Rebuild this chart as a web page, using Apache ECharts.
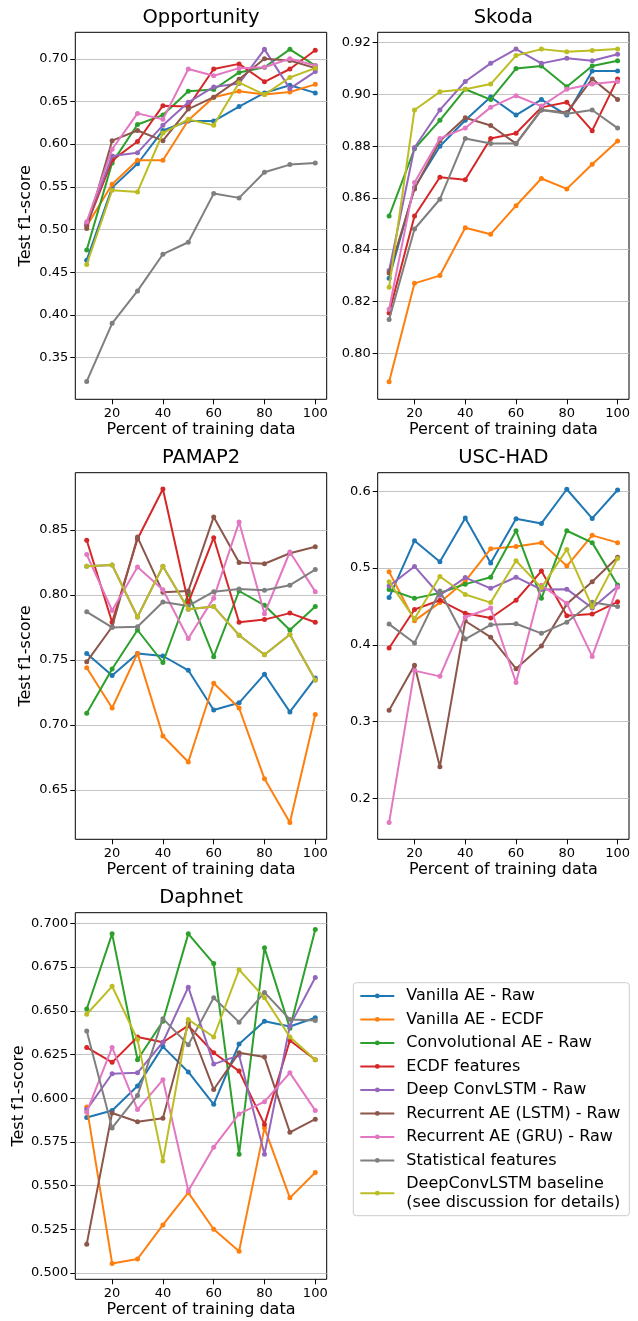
<!DOCTYPE html>
<html><head><meta charset="utf-8">
<script src="https://cdn.jsdelivr.net/npm/echarts@6/dist/echarts.min.js"></script>
<style>html,body{margin:0;padding:0;background:#fff}#c{width:638px;height:1321px}</style>
</head><body><div id="c"></div>
<script>
// ---------- data ----------
const xPercent = [10, 20, 30, 40, 50, 60, 70, 80, 90, 100];
const xTicks = [20, 40, 60, 80, 100];
const seriesNames = [
  'Vanilla AE - Raw', 'Vanilla AE - ECDF', 'Convolutional AE - Raw', 'ECDF features',
  'Deep ConvLSTM - Raw', 'Recurrent AE (LSTM) - Raw', 'Recurrent AE (GRU) - Raw',
  'Statistical features', 'DeepConvLSTM baseline\n(see discussion for details)'
];
const colors = ['#1f77b4','#ff7f0e','#2ca02c','#d62728','#9467bd','#8c564b','#e377c2','#7f7f7f','#bcbd22'];
const datasetTitles = ['Opportunity', 'Skoda', 'PAMAP2', 'USC-HAD', 'Daphnet'];

// Opportunity
const oppVanillaRaw  = [0.464, 0.549, 0.577, 0.616, 0.627, 0.627, 0.644, 0.660, 0.669, 0.660];
const oppVanillaEcdf = [0.504, 0.553, 0.581, 0.581, 0.628, 0.655, 0.662, 0.658, 0.661, 0.670];
const oppConvAE      = [0.476, 0.578, 0.623, 0.634, 0.662, 0.664, 0.684, 0.690, 0.711, 0.692];
const oppEcdfFeat    = [0.505, 0.581, 0.603, 0.645, 0.644, 0.688, 0.694, 0.673, 0.688, 0.710];
const oppDeepConv    = [0.507, 0.586, 0.590, 0.622, 0.649, 0.667, 0.671, 0.711, 0.665, 0.685];
const oppLstmAE      = [0.501, 0.604, 0.616, 0.604, 0.641, 0.655, 0.676, 0.700, 0.698, 0.689];
const oppGruAE       = [0.509, 0.594, 0.636, 0.629, 0.688, 0.680, 0.689, 0.690, 0.700, 0.692];
const oppStatFeat    = [0.322, 0.390, 0.428, 0.471, 0.485, 0.542, 0.537, 0.567, 0.576, 0.578];
const oppBaseline    = [0.459, 0.546, 0.544, 0.613, 0.629, 0.622, 0.672, 0.658, 0.678, 0.689];

// Skoda
const skoVanillaRaw  = [0.829, 0.864, 0.880, 0.890, 0.899, 0.892, 0.898, 0.892, 0.909, 0.909];
const skoVanillaEcdf = [0.789, 0.827, 0.830, 0.8485, 0.846, 0.857, 0.8675, 0.8635, 0.873, 0.882];
const skoConvAE      = [0.853, 0.879, 0.890, 0.902, 0.898, 0.910, 0.911, 0.903, 0.911, 0.913];
const skoEcdfFeat    = [0.8155, 0.853, 0.868, 0.867, 0.883, 0.885, 0.895, 0.897, 0.886, 0.906];
const skoDeepConv    = [0.832, 0.8795, 0.894, 0.905, 0.912, 0.9175, 0.912, 0.914, 0.913, 0.9155];
const skoLstmAE      = [0.831, 0.8635, 0.882, 0.891, 0.888, 0.881, 0.894, 0.893, 0.906, 0.898];
const skoGruAE       = [0.817, 0.866, 0.883, 0.887, 0.895, 0.8995, 0.8955, 0.902, 0.904, 0.905];
const skoStatFeat    = [0.813, 0.848, 0.8595, 0.883, 0.881, 0.881, 0.894, 0.8925, 0.894, 0.887];
const skoBaseline    = [0.8255, 0.894, 0.901, 0.902, 0.904, 0.915, 0.9175, 0.9165, 0.917, 0.9175];

// PAMAP2
const pamVanillaRaw  = [0.755, 0.738, 0.755, 0.753, 0.742, 0.7115, 0.717, 0.739, 0.710, 0.736];
const pamVanillaEcdf = [0.744, 0.713, 0.755, 0.6915, 0.6715, 0.732, 0.713, 0.6585, 0.625, 0.708];
const pamConvAE      = [0.709, 0.743, 0.773, 0.748, 0.801, 0.7525, 0.803, 0.792, 0.773, 0.791];
const pamEcdfFeat    = [0.842, 0.779, 0.843, 0.8815, 0.794, 0.844, 0.779, 0.781, 0.786, 0.779];
const pamDeepConv    = [0.822, 0.823, 0.783, 0.822, 0.789, 0.791, 0.769, 0.754, 0.7695, 0.7345];
const pamLstmAE      = [0.7485, 0.7755, 0.8445, 0.802, 0.803, 0.860, 0.825, 0.824, 0.832, 0.837];
const pamGruAE       = [0.831, 0.788, 0.8215, 0.804, 0.7665, 0.7975, 0.856, 0.7855, 0.833, 0.8025];
const pamStatFeat    = [0.787, 0.775, 0.7755, 0.7945, 0.7915, 0.8025, 0.8045, 0.8035, 0.8075, 0.8195];
const pamBaseline    = [0.822, 0.823, 0.783, 0.822, 0.789, 0.791, 0.769, 0.754, 0.7695, 0.7345];

// USC-HAD
const uscVanillaRaw  = [0.4615, 0.5355, 0.508, 0.565, 0.5065, 0.564, 0.558, 0.6025, 0.5645, 0.6015];
const uscVanillaEcdf = [0.495, 0.4315, 0.455, 0.483, 0.525, 0.528, 0.533, 0.5025, 0.5425, 0.533];
const uscConvAE      = [0.472, 0.4605, 0.4675, 0.479, 0.488, 0.5485, 0.4605, 0.5485, 0.533, 0.478];
const uscEcdfFeat    = [0.396, 0.446, 0.458, 0.441, 0.435, 0.458, 0.496, 0.438, 0.440, 0.456];
const uscDeepConv    = [0.4765, 0.502, 0.4645, 0.4875, 0.4735, 0.488, 0.472, 0.4725, 0.448, 0.476];
const uscLstmAE      = [0.315, 0.3735, 0.2415, 0.431, 0.410, 0.369, 0.3985, 0.453, 0.482, 0.514];
const uscGruAE       = [0.169, 0.3665, 0.359, 0.436, 0.448, 0.351, 0.4775, 0.454, 0.385, 0.475];
const uscStatFeat    = [0.427, 0.4025, 0.470, 0.4075, 0.426, 0.4275, 0.415, 0.4295, 0.4555, 0.450];
const uscBaseline    = [0.482, 0.434, 0.489, 0.4655, 0.455, 0.5095, 0.4745, 0.524, 0.4495, 0.5125];

// Daphnet
const dapVanillaRaw  = [0.589, 0.593, 0.607, 0.6295, 0.615, 0.5965, 0.631, 0.644, 0.641, 0.646];
const dapVanillaEcdf = [0.595, 0.5055, 0.508, 0.5275, 0.546, 0.525, 0.5125, 0.583, 0.543, 0.5575];
const dapConvAE      = [0.651, 0.694, 0.622, 0.644, 0.694, 0.677, 0.568, 0.686, 0.640, 0.6965];
const dapEcdfFeat    = [0.629, 0.6205, 0.635, 0.632, 0.6415, 0.626, 0.6155, 0.585, 0.633, 0.622];
const dapDeepConv    = [0.5935, 0.614, 0.6145, 0.632, 0.6635, 0.6195, 0.6245, 0.568, 0.6415, 0.669];
const dapLstmAE      = [0.5165, 0.5915, 0.5865, 0.5885, 0.643, 0.605, 0.626, 0.6235, 0.5805, 0.588];
const dapGruAE       = [0.592, 0.629, 0.5935, 0.6105, 0.547, 0.572, 0.591, 0.598, 0.6145, 0.593];
const dapStatFeat    = [0.6385, 0.583, 0.6015, 0.6455, 0.6305, 0.6575, 0.6435, 0.6605, 0.645, 0.6445];
const dapBaseline    = [0.648, 0.664, 0.6335, 0.564, 0.645, 0.635, 0.6735, 0.6575, 0.635, 0.622];

// y tick labels per panel
const oppYTicks = [0.35, 0.40, 0.45, 0.50, 0.55, 0.60, 0.65, 0.70];
const skoYTicks = [0.80, 0.82, 0.84, 0.86, 0.88, 0.90, 0.92];
const pamYTicks = [0.65, 0.70, 0.75, 0.80, 0.85];
const uscYTicks = [0.2, 0.3, 0.4, 0.5, 0.6];
const dapYTicks = [0.500, 0.525, 0.550, 0.575, 0.600, 0.625, 0.650, 0.675, 0.700];

// ---------- build ----------
const panelSeries = [
  [oppVanillaRaw, oppVanillaEcdf, oppConvAE, oppEcdfFeat, oppDeepConv, oppLstmAE, oppGruAE, oppStatFeat, oppBaseline],
  [skoVanillaRaw, skoVanillaEcdf, skoConvAE, skoEcdfFeat, skoDeepConv, skoLstmAE, skoGruAE, skoStatFeat, skoBaseline],
  [pamVanillaRaw, pamVanillaEcdf, pamConvAE, pamEcdfFeat, pamDeepConv, pamLstmAE, pamGruAE, pamStatFeat, pamBaseline],
  [uscVanillaRaw, uscVanillaEcdf, uscConvAE, uscEcdfFeat, uscDeepConv, uscLstmAE, uscGruAE, uscStatFeat, uscBaseline],
  [dapVanillaRaw, dapVanillaEcdf, dapConvAE, dapEcdfFeat, dapDeepConv, dapLstmAE, dapGruAE, dapStatFeat, dapBaseline]
];
const panelYTicks = [oppYTicks, skoYTicks, pamYTicks, uscYTicks, dapYTicks];
const panelDecimals = [2, 2, 2, 1, 3];
const panelYRange = [[0.301, 0.731], [0.7822, 0.924], [0.612, 0.894], [0.147, 0.624], [0.4964, 0.7061]];
const panelBoxes = [
  {left: 75.3, top: 32.3, width: 251.4, height: 367},
  {left: 377.7, top: 32.3, width: 251.3, height: 367},
  {left: 75.3, top: 472.7, width: 251.4, height: 366.6},
  {left: 377.7, top: 472.7, width: 251.3, height: 366.6},
  {left: 75.3, top: 912.7, width: 251.4, height: 366.6}
];
const FONT = 'DejaVu Sans';

const grid = panelBoxes.map(b => ({
  left: b.left, top: b.top, width: b.width, height: b.height,
  show: true, borderColor: '#000', borderWidth: 1, backgroundColor: 'transparent', containLabel: false
}));

const xAxis = panelBoxes.map((b, i) => ({
  type: 'value', gridIndex: i, min: 5.5, max: 104.5,
  name: 'Percent of training data', nameLocation: 'middle', nameGap: 22.5,
  nameTextStyle: {fontFamily: FONT, fontSize: 16, color: '#000'},
  axisLine: {show: false},
  axisTick: {show: true, length: 5, customValues: xTicks, lineStyle: {color: '#000', width: 1}},
  axisLabel: {customValues: xTicks, margin: 8, fontFamily: FONT, fontSize: 13, color: '#000'},
  splitLine: {show: false}
}));

const yAxis = panelBoxes.map((b, i) => ({
  type: 'value', gridIndex: i, min: panelYRange[i][0], max: panelYRange[i][1],
  name: (i % 2 === 0) ? 'Test f1-score' : '', nameLocation: 'middle', nameGap: 41,
  nameTextStyle: {fontFamily: FONT, fontSize: 16, color: '#000'},
  axisLine: {show: false},
  axisTick: {show: true, length: 5, customValues: panelYTicks[i], lineStyle: {color: '#000', width: 1}},
  axisLabel: {customValues: panelYTicks[i], margin: 7, fontFamily: FONT, fontSize: 13, color: '#000',
    formatter: v => Number(v).toFixed(panelDecimals[i])},
  splitLine: {show: true, lineStyle: {color: '#c4c4c4', width: 1}}
}));

const series = [];
panelSeries.forEach((list, p) => {
  list.forEach((vals, k) => {
    series.push({
      type: 'line', name: seriesNames[k], xAxisIndex: p, yAxisIndex: p,
      data: xPercent.map((x, j) => [x, vals[j]]),
      symbol: 'circle', symbolSize: 5, showSymbol: true,
      color: colors[k],
      lineStyle: {width: 2, color: colors[k]},
      itemStyle: {color: colors[k]},
      emphasis: {disabled: true},
      z: 2 + k * 0.01,
      animation: false
    });
  });
});

const title = datasetTitles.map((t, i) => ({
  text: t, left: panelBoxes[i].left + panelBoxes[i].width / 2, top: panelBoxes[i].top - 14.5,
  textAlign: 'center', textVerticalAlign: 'middle', padding: 0,
  textStyle: {fontFamily: FONT, fontSize: 19.5, fontWeight: 'normal', color: '#000'}
}));

const chart = echarts.init(document.getElementById('c'), null, {renderer: 'canvas'});
chart.setOption({
  animation: false,
  backgroundColor: '#fff',
  title, grid, xAxis, yAxis, series,
  legend: {
    orient: 'vertical', left: 353.3, top: 982.7,
    data: seriesNames, itemWidth: 34, itemHeight: 6, itemGap: 5,
    padding: [4, 9, 4, 6], borderColor: '#cccccc', borderWidth: 1, borderRadius: 3,
    backgroundColor: '#fff', selectedMode: false,
    textStyle: {fontFamily: FONT, fontSize: 16, color: '#000', lineHeight: 18.5, padding: [0, 0, 0, 7]}
  }
});
</script>
</body></html>
